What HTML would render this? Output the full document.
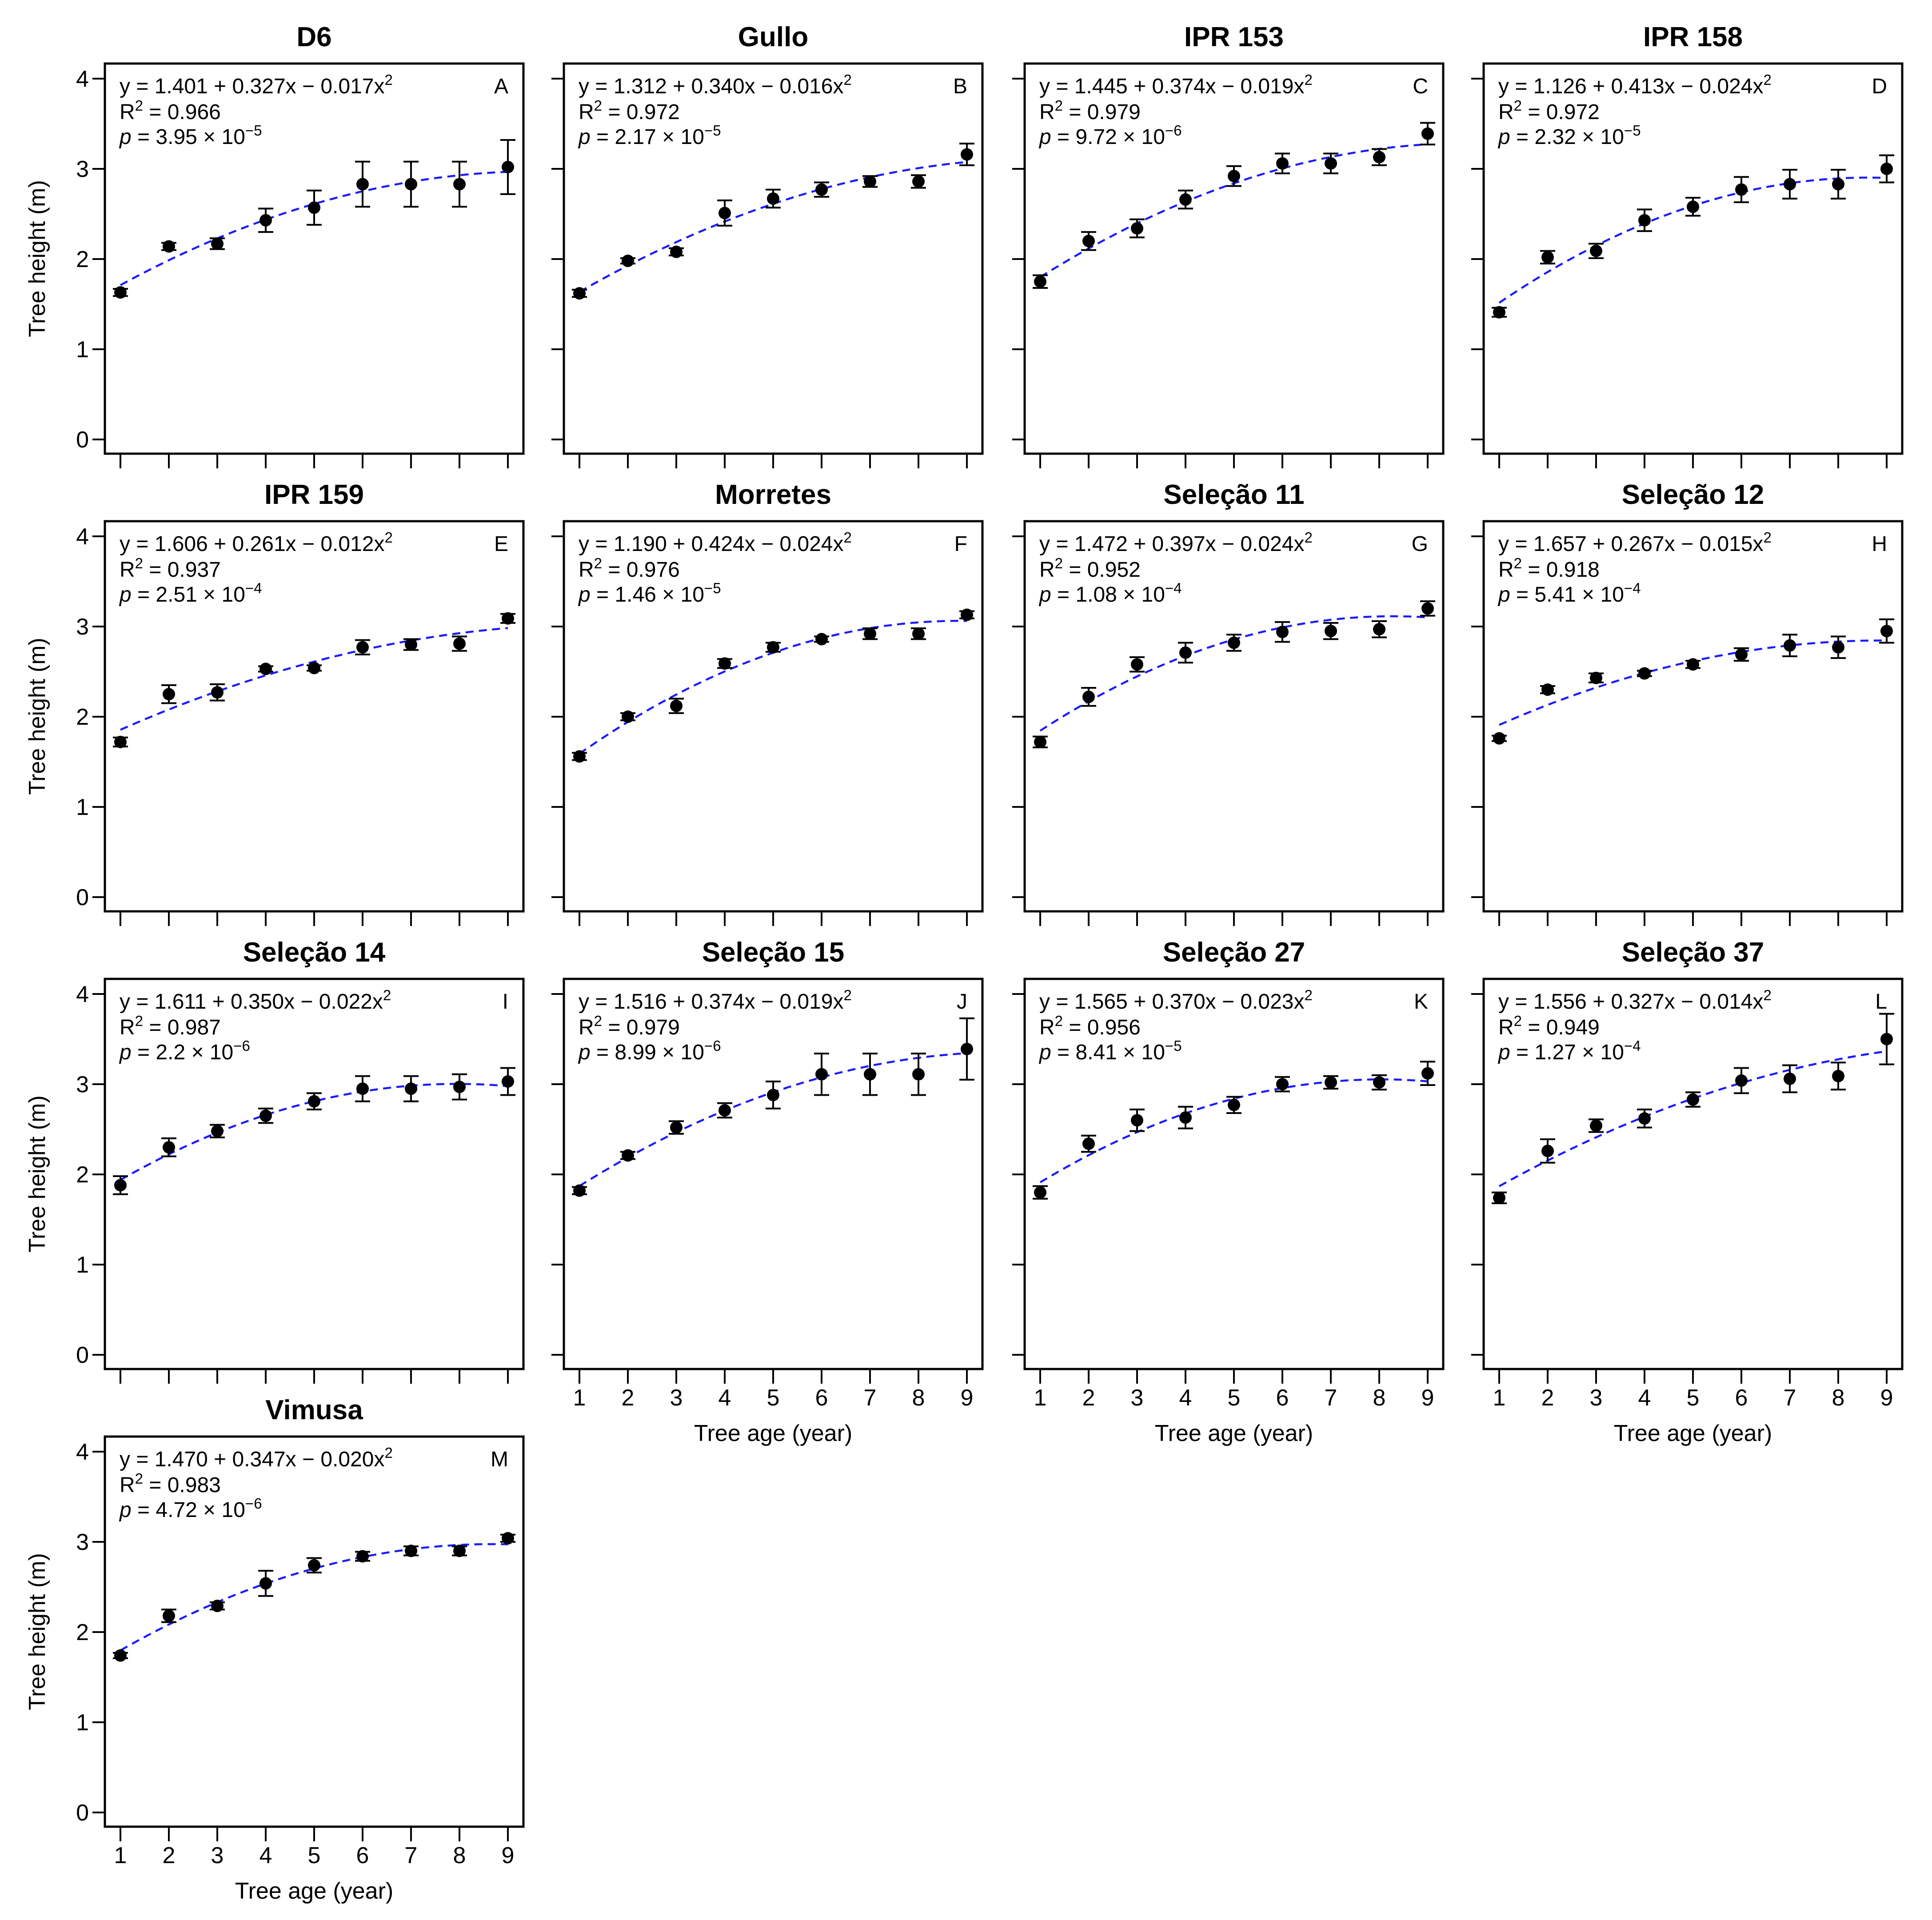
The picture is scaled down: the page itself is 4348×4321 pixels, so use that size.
<!DOCTYPE html>
<html><head><meta charset="utf-8"><style>
html,body{margin:0;padding:0;background:#fff}
svg{display:block}
text{font-family:"Liberation Sans",sans-serif;fill:#000}
</style></head><body>
<svg id="chart" xmlns="http://www.w3.org/2000/svg" width="4348" height="4321" viewBox="0 0 4348 4321"></svg>
<script>
const panelNames = ["D6","Gullo","IPR 153","IPR 158","IPR 159","Morretes","Seleção 11","Seleção 12","Seleção 14","Seleção 15","Seleção 27","Seleção 37","Vimusa"];
const panelLetters = ["A","B","C","D","E","F","G","H","I","J","K","L","M"];
const ages = [1,2,3,4,5,6,7,8,9];
const yTicks = [0,1,2,3,4];
const meansA=[1.63,2.14,2.17,2.43,2.57,2.83,2.83,2.83,3.02];
const meansB=[1.62,1.98,2.08,2.51,2.67,2.77,2.86,2.86,3.16];
const meansC=[1.75,2.20,2.34,2.66,2.92,3.06,3.06,3.13,3.39];
const meansD=[1.41,2.02,2.09,2.43,2.58,2.77,2.83,2.83,3.00];
const meansE=[1.72,2.25,2.27,2.53,2.54,2.77,2.80,2.81,3.09];
const meansF=[1.56,2.00,2.12,2.59,2.77,2.86,2.92,2.92,3.13];
const meansG=[1.72,2.22,2.58,2.71,2.82,2.94,2.95,2.97,3.20];
const meansH=[1.76,2.30,2.43,2.48,2.58,2.69,2.79,2.77,2.95];
const meansI=[1.88,2.30,2.48,2.65,2.81,2.95,2.95,2.97,3.03];
const meansJ=[1.82,2.21,2.52,2.71,2.88,3.11,3.11,3.11,3.39];
const meansK=[1.80,2.34,2.60,2.63,2.77,3.00,3.02,3.02,3.12];
const meansL=[1.74,2.26,2.54,2.62,2.83,3.04,3.06,3.09,3.50];
const meansM=[1.74,2.18,2.29,2.54,2.74,2.84,2.90,2.90,3.04];
const errA=[0.04,0.04,0.06,0.13,0.19,0.25,0.25,0.25,0.30];
const errB=[0.04,0.03,0.04,0.14,0.10,0.08,0.06,0.07,0.12];
const errC=[0.07,0.10,0.10,0.10,0.11,0.11,0.11,0.09,0.12];
const errD=[0.05,0.07,0.08,0.12,0.10,0.14,0.16,0.16,0.15];
const errE=[0.05,0.10,0.09,0.03,0.03,0.08,0.06,0.08,0.05];
const errF=[0.04,0.04,0.08,0.05,0.05,0.03,0.06,0.06,0.04];
const errG=[0.06,0.10,0.08,0.11,0.09,0.11,0.09,0.09,0.08];
const errH=[0.03,0.04,0.05,0.03,0.04,0.07,0.12,0.12,0.13];
const errI=[0.10,0.10,0.07,0.08,0.09,0.14,0.14,0.14,0.15];
const errJ=[0.04,0.04,0.07,0.08,0.15,0.23,0.23,0.23,0.34];
const errK=[0.07,0.09,0.12,0.12,0.09,0.08,0.07,0.08,0.13];
const errL=[0.06,0.13,0.07,0.10,0.08,0.14,0.15,0.15,0.28];
const errM=[0.03,0.07,0.04,0.14,0.08,0.05,0.05,0.05,0.04];
const coefA=[1.401,1.312,1.445,1.126,1.606,1.190,1.472,1.657,1.611,1.516,1.565,1.556,1.470];
const coefB=[0.327,0.340,0.374,0.413,0.261,0.424,0.397,0.267,0.350,0.374,0.370,0.327,0.347];
const coefC=[-0.017,-0.016,-0.019,-0.024,-0.012,-0.024,-0.024,-0.015,-0.022,-0.019,-0.023,-0.014,-0.020];
const r2Labels=["0.966","0.972","0.979","0.972","0.937","0.976","0.952","0.918","0.987","0.979","0.956","0.949","0.983"];
const pMant=["3.95","2.17","9.72","2.32","2.51","1.46","1.08","5.41","2.2","8.99","8.41","1.27","4.72"];
const pExp=["−5","−5","−6","−5","−4","−5","−4","−4","−6","−6","−5","−4","−6"];

const allMeans=[meansA,meansB,meansC,meansD,meansE,meansF,meansG,meansH,meansI,meansJ,meansK,meansL,meansM];
const allErr=[errA,errB,errC,errD,errE,errF,errG,errH,errI,errJ,errK,errL,errM];
const NS="http://www.w3.org/2000/svg";
const svg=document.getElementById('chart');
const colLeft=[236,1269,2306,3339];
const rowTop=[143,1173,2203,3233];
const W=942,H=878;
function mk(tag,attrs,parent){const e=document.createElementNS(NS,tag);for(const k in attrs)e.setAttribute(k,attrs[k]);(parent||svg).appendChild(e);return e;}
function fmt(v){return Math.abs(v).toFixed(3);}

for(let i=0;i<13;i++){
  const col=i%4,row=Math.floor(i/4);
  const L=colLeft[col],T=rowTop[row];
  const xs=v=>L+35+(v-1)*109;
  const ys=v=>T+846-v*203;
  const g=mk('g',{});
  
  
  const t=mk('text',{x:L+W/2,y:T-39,'text-anchor':'middle','font-size':62,'font-weight':'bold'},g);
  t.textContent=panelNames[i];
  
  
  const box=mk('rect',{x:L,y:T,width:W,height:H,fill:'none',stroke:'#000','stroke-width':5},g);
  
  
  yTicks.forEach(v=>{
    const tk=mk('line',{x1:L-28,x2:L,y1:ys(v),y2:ys(v),stroke:'#000','stroke-width':4},g);
    
    
    if(col===0){
      const tl=mk('text',{x:L-36,y:ys(v)+18,'text-anchor':'end','font-size':52},g);
      tl.textContent=v;
      
      
    }
  });
  if(col===0){
    const yt=mk('text',{x:0,y:0,'text-anchor':'middle','font-size':52,transform:`translate(${L-135},${T+H/2}) rotate(-90)`},g);
    yt.textContent='Tree height (m)';
    
    
  }
  const showX=(row===3)||(row===2&&col>0);
  ages.forEach(v=>{
    const tk=mk('line',{x1:xs(v),x2:xs(v),y1:T+H,y2:T+H+33,stroke:'#000','stroke-width':4},g);
    
    
    if(showX){
      const tl=mk('text',{x:xs(v),y:T+H+82,'text-anchor':'middle','font-size':52},g);
      tl.textContent=v;
      
      
    }
  });
  if(showX){
    const xt=mk('text',{x:L+W/2,y:T+H+162,'text-anchor':'middle','font-size':52},g);
    xt.textContent='Tree age (year)';
    
    
  }
  let d='';
  for(let k=0;k<=80;k++){const x=1+k*0.1;const y=coefA[i]+coefB[i]*x+coefC[i]*x*x;d+=(k?'L':'M')+xs(x).toFixed(1)+' '+ys(y).toFixed(1);}
  const fit=mk('path',{d:d,fill:'none',stroke:'#1a1aff','stroke-width':4.5,'stroke-dasharray':'18 12'},g);
  
  
  ages.forEach((v,k)=>{
    const m=allMeans[i][k],e=allErr[i][k];
    const x=xs(v);
    const eb=mk('path',{d:`M${x-17} ${ys(m+e)}H${x+17}M${x} ${ys(m+e)}V${ys(m-e)}M${x-17} ${ys(m-e)}H${x+17}`,stroke:'#000','stroke-width':4,fill:'none'},g);
    
    
    const c=mk('circle',{cx:x,cy:ys(m),r:14,fill:'#000'},g);
    
    
  });
  const tx=L+33;
  const a1=mk('text',{x:tx,y:T+67,'font-size':48},g);
  
  
  a1.innerHTML=`y = ${coefA[i].toFixed(3)} + ${fmt(coefB[i])}x − ${fmt(coefC[i])}x<tspan font-size="33" dy="-19">2</tspan>`;
  const a2=mk('text',{x:tx,y:T+125,'font-size':48},g);
  
  
  a2.innerHTML=`R<tspan font-size="33" dy="-19">2</tspan><tspan dy="19"> = ${r2Labels[i]}</tspan>`;
  const a3=mk('text',{x:tx,y:T+181,'font-size':48},g);
  
  
  a3.innerHTML=`<tspan font-style="italic">p</tspan> = ${pMant[i]} × 10<tspan font-size="33" dy="-19">${pExp[i]}</tspan>`;
  const lt=mk('text',{x:L+W-34,y:T+67,'text-anchor':'end','font-size':48},g);
  lt.textContent=panelLetters[i];
  
  
}
</script>
</body></html>
